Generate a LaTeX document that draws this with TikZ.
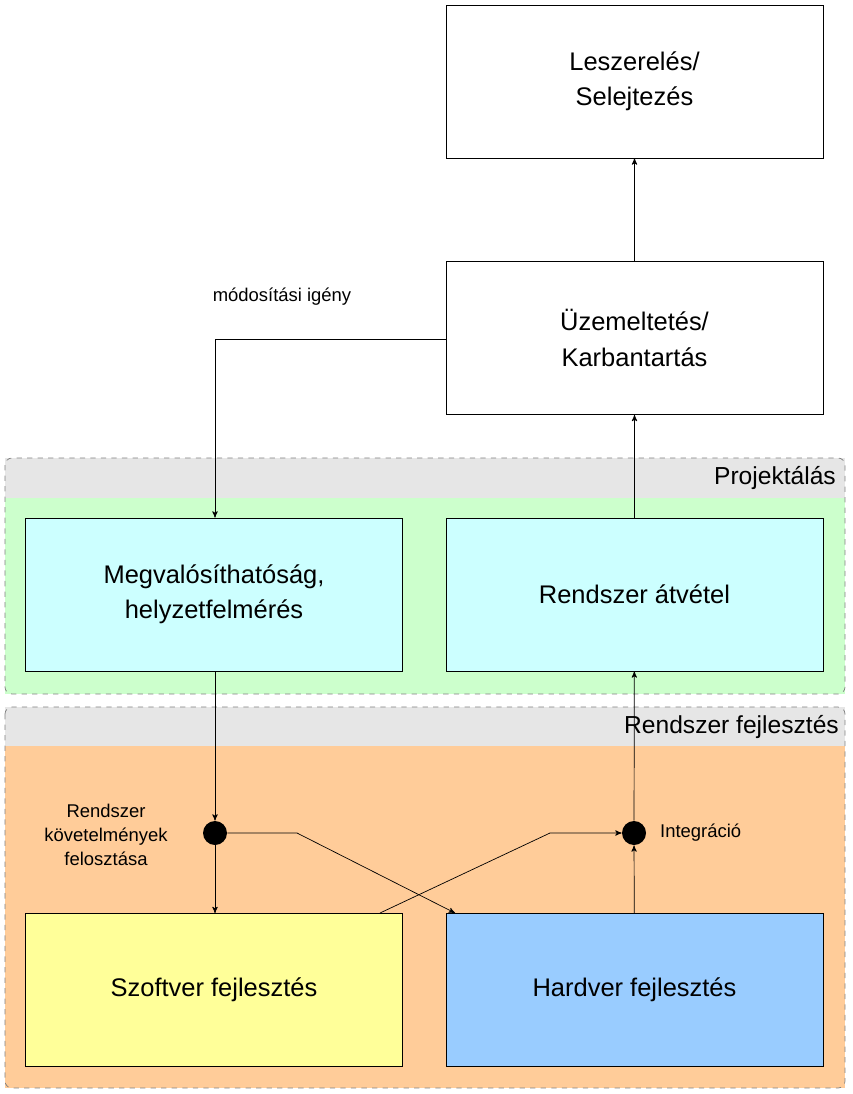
\documentclass[tikz,border=0pt]{standalone}
\usepackage{fontspec}
\setmainfont{Liberation Sans}
\usetikzlibrary{arrows,positioning}
\definecolor{grpgray}{HTML}{E6E6E6}
\definecolor{grpgreen}{HTML}{CCFFCC}
\definecolor{grporange}{HTML}{FFCC99}
\definecolor{boxcyan}{HTML}{CCFFFF}
\definecolor{boxyellow}{HTML}{FFFF99}
\definecolor{boxblue}{HTML}{99CCFF}
\tikzset{
  phase/.style={draw,fill=white,minimum width=7.54cm,minimum height=3.06cm,align=center,font=\fontsize{14.5}{20}\selectfont},
  dot/.style={circle,fill=black,inner sep=0pt,minimum size=0.48cm},
  note/.style={font=\fontsize{10.5}{13.5}\selectfont,align=center},
  grptitle/.style={anchor=east,font=\fontsize{14}{16}\selectfont},
  flow/.style={-stealth'}
}
\begin{document}
\begin{tikzpicture}[x=0.02cm,y=-0.02cm]
\useasboundingbox (0,0) rectangle (852,1094);
% groups
\fill[grpgreen] (5,458) rectangle (845,694);
\fill[grpgray] (5,458) rectangle (845,498);
\draw[dashed,gray,rounded corners=4pt] (5,458) rectangle (845,694);
\node[grptitle] at (842,478) {Projektálás};
\fill[grporange] (5,707) rectangle (845,1088);
\fill[grpgray] (5,707) rectangle (845,746);
\draw[dashed,gray,rounded corners=4pt] (5,707) rectangle (845,1088);
\node[grptitle] at (845,727) {Rendszer fejlesztés};
% phases
\node[phase] (lesz) at (634.5,81.5) {Leszerelés/\\Selejtezés};
\node[phase] (uzem) at (634.5,338) {Üzemeltetés/\\Karbantartás};
\node[phase,fill=boxcyan] (megv) at (214,594.5) {Megvalósíthatóság,\\helyzetfelmérés};
\node[phase,fill=boxcyan] (atv) at (634.5,594.5) {Rendszer átvétel};
\node[phase,fill=boxyellow] (szoft) at (214,990) {Szoftver fejlesztés};
\node[phase,fill=boxblue] (hard) at (634.5,990) {Hardver fejlesztés};
\node[dot] (feloszt) at (215,833) {};
\node[dot] (integr) at (634,833) {};
\node[note] at (106,835) {Rendszer\\követelmények\\felosztása};
\node[note,anchor=west] at (654,833) {Integráció};
\node[note] at (282,297) {módosítási igény};
\coordinate (kanyar) at (215,339);
\coordinate (hwbe) at (455,913);
\coordinate (swki) at (380,913);
% connectors
\draw[flow] (uzem) -- (lesz);
\draw[flow] (atv) -- (uzem);
\draw[flow] (uzem.west |- kanyar) -- (kanyar) -- (megv.north -| kanyar);
\draw[flow] (megv.south -| feloszt) -- (feloszt);
\draw[flow] (feloszt) -- (szoft.north -| feloszt);
\draw[flow] (feloszt) -- (297,833) -- (hwbe);
\draw[flow] (swki) -- (550,833) -- (integr);
\draw[flow] (hard) -- (integr);
\draw[flow] (integr) -- (atv);
\end{tikzpicture}
\end{document}
